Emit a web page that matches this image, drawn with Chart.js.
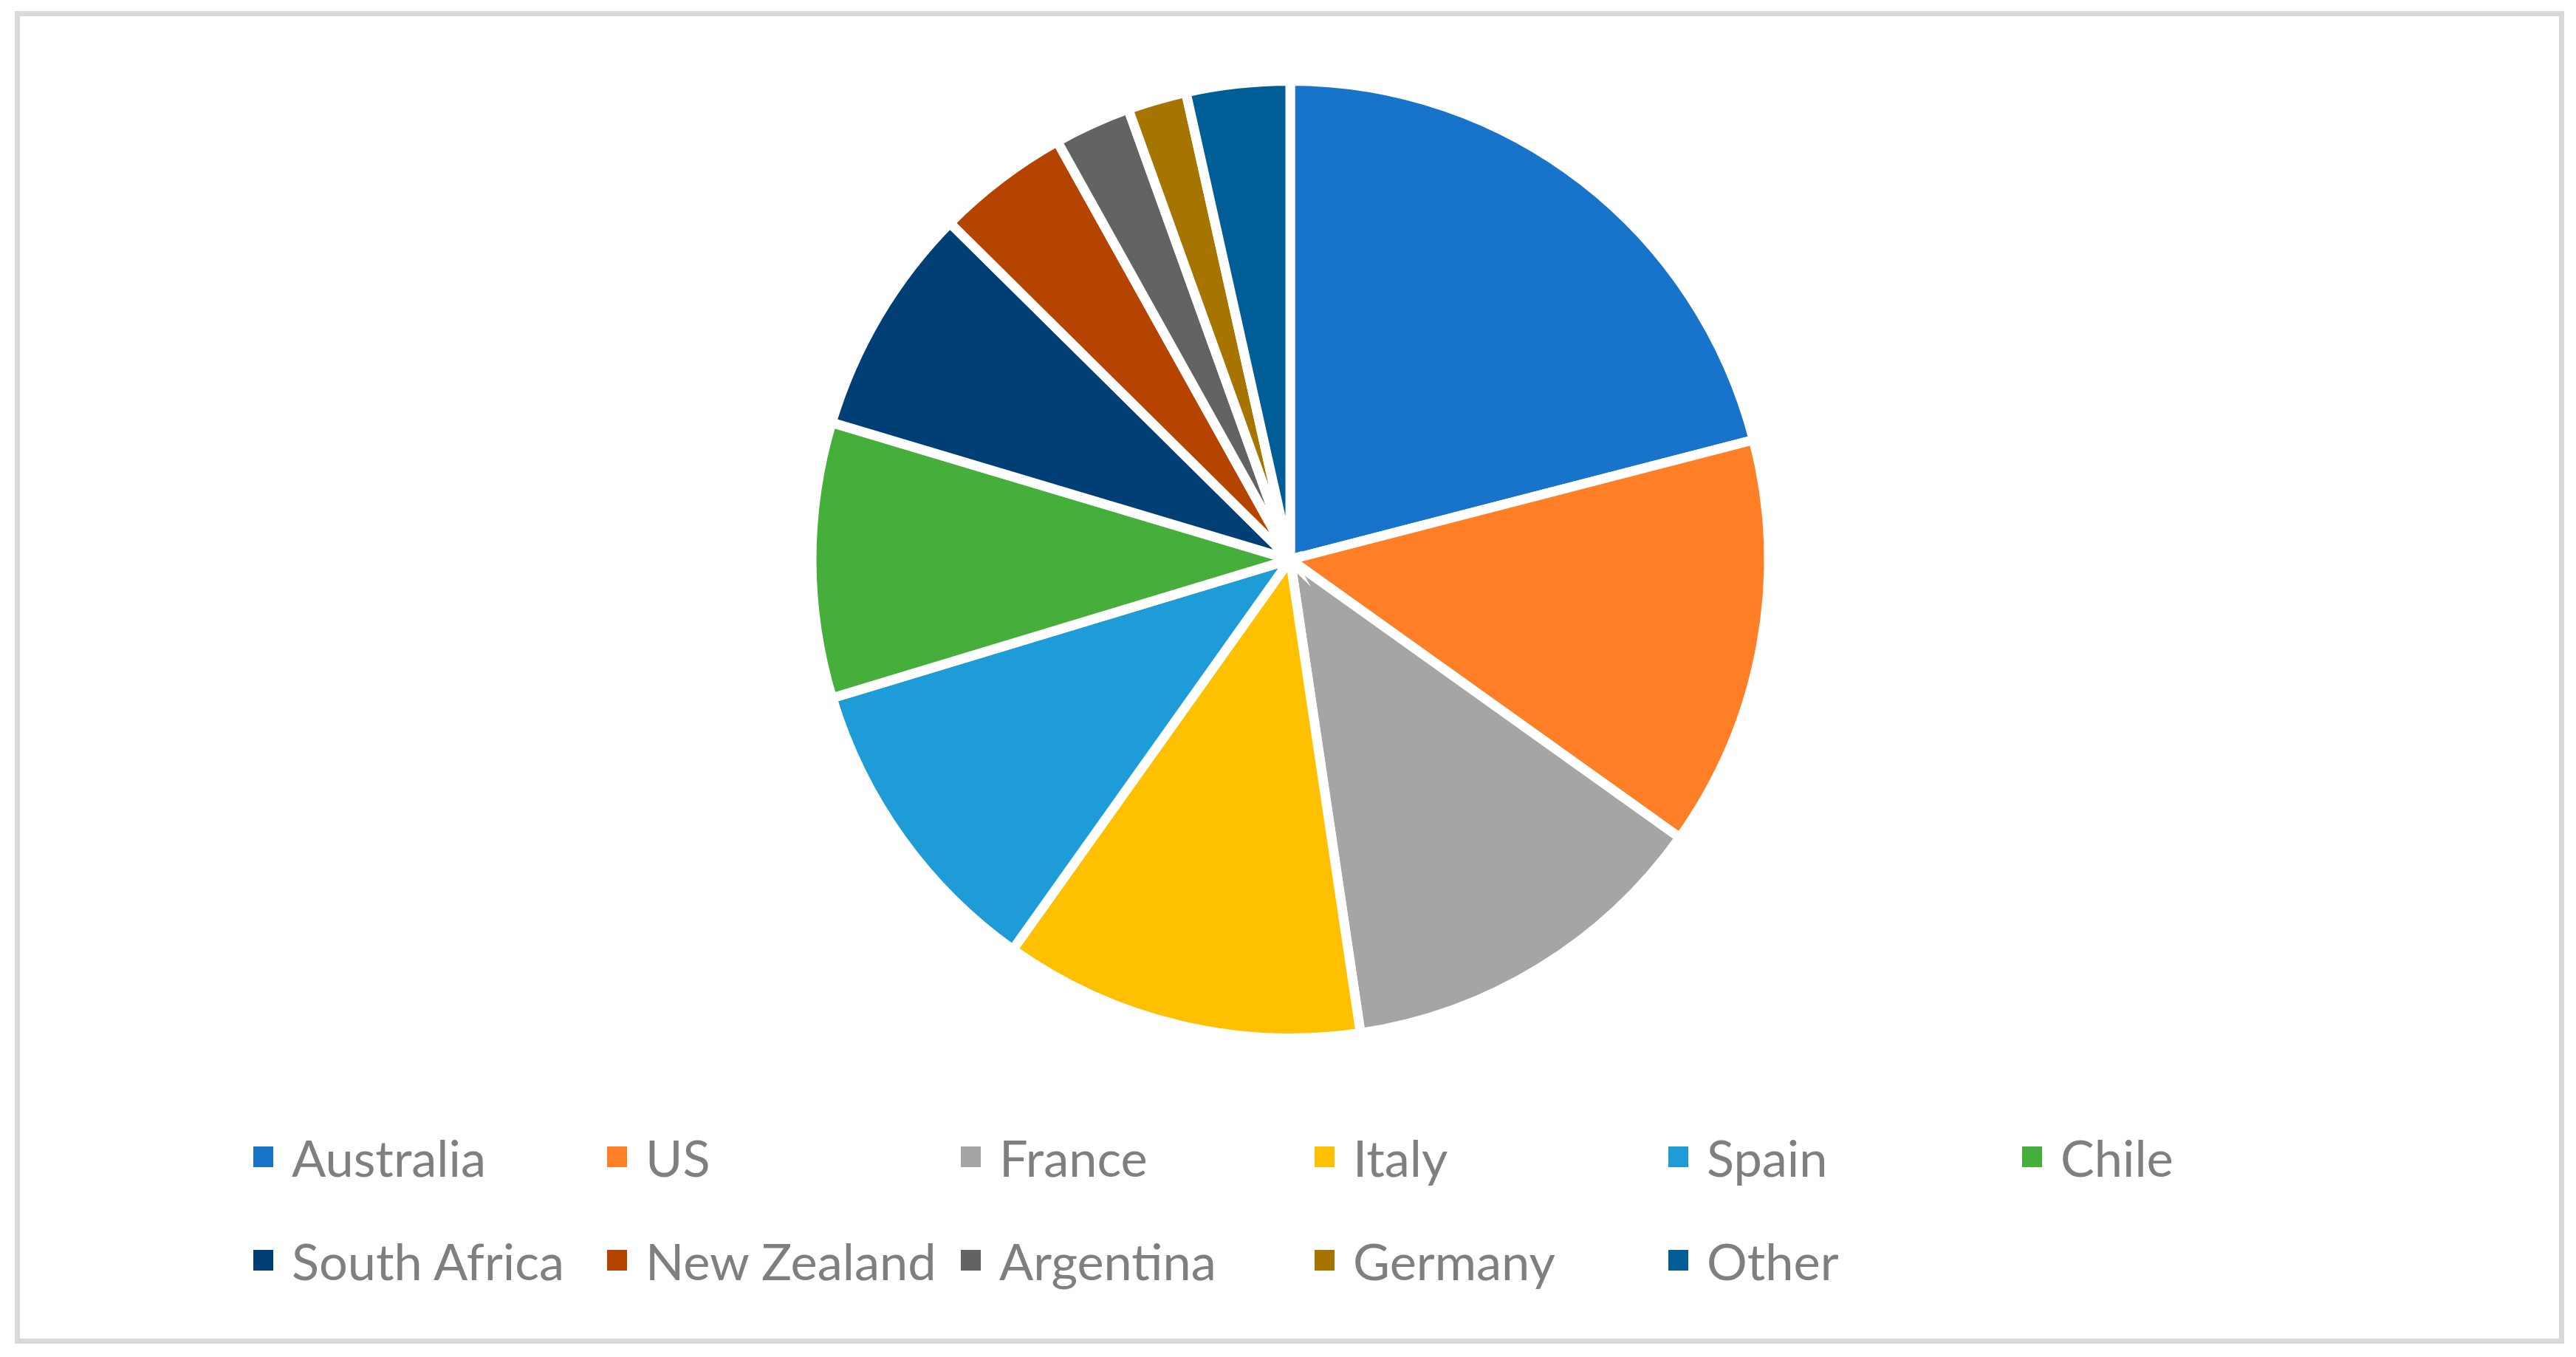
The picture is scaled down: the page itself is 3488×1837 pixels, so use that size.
<!DOCTYPE html>
<html>
<head>
<meta charset="utf-8">
<script src="https://cdn.jsdelivr.net/npm/chart.js@4.4.1/dist/chart.umd.min.js"></script>
<style>
  html, body { margin: 0; padding: 0; background: #fff; }
  body { width: 3488px; height: 1837px; position: relative; overflow: hidden; }
  #frame {
    position: absolute; left: 20px; top: 15px;
    width: 3452px; height: 1804px;
    box-sizing: border-box; border: 7px solid #d9d9d9;
  }
  #pieWrap { position: absolute; left: 3px; top: 103px; width: 3488px; height: 1309px; }
  #legend {
    position: absolute; left: 343px; top: 1496px;
    display: grid; grid-template-columns: repeat(6, 479px);
    font-family: Lato, "Open Sans", sans-serif; font-size: 68.5px; color: #7f7f7f;
  }
  .item { display: flex; align-items: center; height: 140px; white-space: nowrap; }
  .swatch { width: 27px; height: 28px; margin-right: 25px; flex: none; }
</style>
</head>
<body>
<div id="frame"></div>
<div id="pieWrap"><canvas id="wineChart"></canvas></div>
<div id="legend"></div>
<script>
// share of production by country (percent)
const countries = ["Australia", "US", "France", "Italy", "Spain", "Chile",
  "South Africa", "New Zealand", "Argentina", "Germany", "Other"];
const shares = [21.0, 13.9, 12.8, 12.2, 10.5, 9.3, 7.8, 4.5, 2.6, 2.0, 3.5];
const colors = ["#1874ca", "#ff7f27", "#a5a5a5", "#ffc000", "#1e9cd8", "#46af3b",
  "#003f76", "#b44400", "#636363", "#a67500", "#005e96"];

document.addEventListener("DOMContentLoaded", function () {
  const ctx = document.getElementById("wineChart").getContext("2d");

  new Chart(ctx, {
    type: "pie",
    data: {
      labels: countries,
      datasets: [{
        data: shares,
        backgroundColor: colors,
        borderColor: "#ffffff",
        borderWidth: 13,
        borderJoinStyle: "miter",
      }],
    },
    options: {
      responsive: true,
      maintainAspectRatio: false,
      animation: false,
      layout: { padding: 0 },
      plugins: {
        legend: { display: false },
        tooltip: { enabled: false },
      },
    },
  });

  // legend laid out in equal columns like the original
  const legend = document.getElementById("legend");
  countries.forEach((name, i) => {
    const item = document.createElement("div");
    item.className = "item";
    const sw = document.createElement("span");
    sw.className = "swatch";
    sw.style.background = colors[i];
    const txt = document.createElement("span");
    txt.textContent = name;
    item.appendChild(sw);
    item.appendChild(txt);
    legend.appendChild(item);
  });
});
</script>
</body>
</html>
